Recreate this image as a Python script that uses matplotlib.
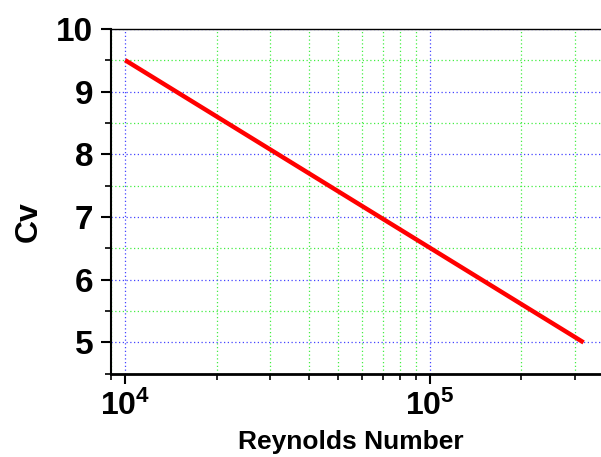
import numpy as np
import matplotlib
matplotlib.use('Agg')
from matplotlib import pyplot as plt
from matplotlib.ticker import LogLocator, MultipleLocator, NullFormatter

plt.rcParams['font.family'] = ['Liberation Sans', 'DejaVu Sans']
plt.rcParams['font.weight'] = 'bold'
plt.rcParams['mathtext.fontset'] = 'custom'
plt.rcParams['mathtext.rm'] = 'Liberation Sans:bold'
plt.rcParams['mathtext.default'] = 'rm'

# data
reynolds = [1e4, 3.2e5]
cv = [9.5, 5.0]

fig = plt.figure(figsize=(6.01, 4.57), dpi=100)
ax = fig.add_axes([0.185, 0.182, 0.815, 0.755])

ax.plot(reynolds, cv, color='red', linewidth=3.2, solid_capstyle='butt', zorder=3)

ax.set_xscale('log')
ax.set_xlim(9000, 365000)
ax.set_ylim(4.5, 10)

ax.xaxis.set_major_locator(LogLocator(base=10))
ax.xaxis.set_minor_locator(LogLocator(base=10, subs=np.arange(2, 10)))
ax.xaxis.set_minor_formatter(NullFormatter())
ax.yaxis.set_major_locator(MultipleLocator(1))
ax.yaxis.set_minor_locator(MultipleLocator(0.5))

ax.grid(which='major', color='#4444ff', linestyle=(0, (1, 2)), linewidth=0.9)
ax.grid(which='minor', color='#44ee44', linestyle=(0, (1, 2)), linewidth=0.9)

ax.spines['right'].set_visible(False)
ax.spines['top'].set_linewidth(1)
ax.spines['left'].set_linewidth(1.5)
ax.spines['bottom'].set_linewidth(2)

ax.tick_params(which='major', direction='out', length=7, width=1.5)
ax.tick_params(which='minor', direction='out', length=4, width=1.2)
ax.tick_params(axis='x', which='major', labelsize=23, pad=5)
ax.tick_params(axis='y', which='major', labelsize=24, pad=6)

ax.set_xlabel('Reynolds Number', fontsize=19, fontweight='bold', labelpad=6, x=0.49)
ax.set_ylabel('Cv', fontsize=23, fontweight='bold', labelpad=9, y=0.44)

plt.savefig('out.png', dpi=100)
